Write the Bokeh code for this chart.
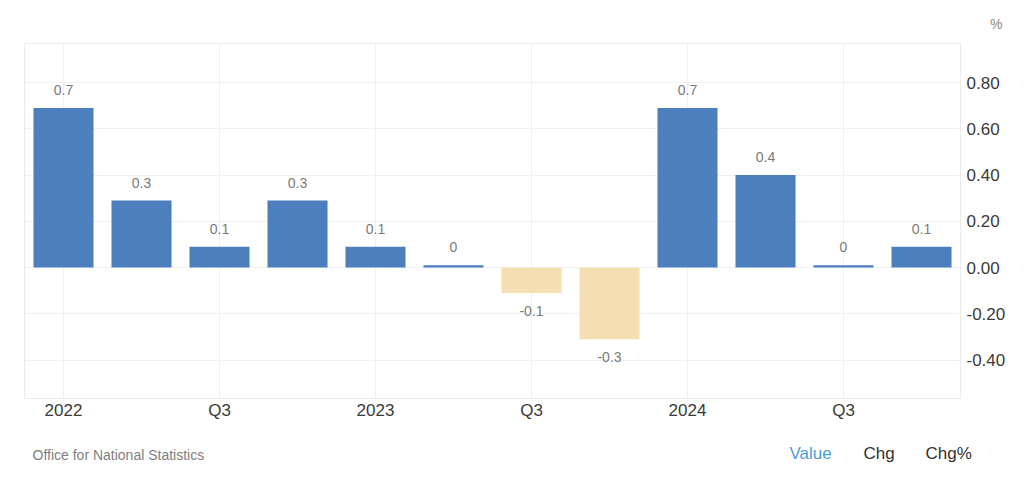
from bokeh.plotting import figure
from bokeh.layouts import column
from bokeh.models import (ColumnDataSource, FixedTicker, Range1d, LabelSet, Title,
                          NumeralTickFormatter)
from bokeh.core.properties import value
from bokeh.embed import file_html
from bokeh.resources import INLINE

# ---- data ----
quarters = ["2022 Q1", "2022 Q2", "2022 Q3", "2022 Q4",
            "2023 Q1", "2023 Q2", "2023 Q3", "2023 Q4",
            "2024 Q1", "2024 Q2", "2024 Q3", "2024 Q4"]
values = [0.69, 0.29, 0.09, 0.29, 0.09, 0.01, -0.11, -0.31, 0.69, 0.40, 0.01, 0.09]
bar_labels = ["0.7", "0.3", "0.1", "0.3", "0.1", "0", "-0.1", "-0.3", "0.7", "0.4", "0", "0.1"]
tick_positions = [0, 2, 4, 6, 8, 10]
tick_labels = ["2022", "Q3", "2023", "Q3", "2024", "Q3"]
y_ticks = [-0.4, -0.2, 0.0, 0.2, 0.4, 0.6, 0.8]
source_text = "Office for National Statistics"
unit_text = "%"
buttons = ["Value", "Chg", "Chg%"]
button_colors = ["#4a9be0", "#333333", "#333333"]

POS_COLOR = "#4d7fbe"
NEG_COLOR = "#f5dfb2"
FONT = "Liberation Sans"
W = 1016

idx = list(range(len(values)))
colors = [POS_COLOR if v >= 0 else NEG_COLOR for v in values]
src = ColumnDataSource(dict(x=idx, top=values, color=colors, label=bar_labels))
pos_src = ColumnDataSource(dict(x=[i for i in idx if values[i] >= 0],
                                y=[values[i] for i in idx if values[i] >= 0],
                                label=[bar_labels[i] for i in idx if values[i] >= 0]))
neg_src = ColumnDataSource(dict(x=[i for i in idx if values[i] < 0],
                                y=[values[i] for i in idx if values[i] < 0],
                                label=[bar_labels[i] for i in idx if values[i] < 0]))

p = figure(width=W, height=430,
           x_range=Range1d(-0.5, 11.5), y_range=Range1d(-0.566, 0.969),
           y_axis_location="right",
           output_backend="svg", toolbar_location=None,
           min_border_left=24, min_border_right=56, min_border_top=43, min_border_bottom=32)

p.background_fill_color = "white"
p.border_fill_color = "white"
p.outline_line_color = "#ebebeb"
p.outline_line_width = 1

p.add_layout(Title(text=unit_text, align="right", offset=-42, standoff=23,
                   text_font=FONT, text_font_size="14px", text_font_style="normal",
                   text_color="#8a8a8a"), "above")

p.vbar(x="x", top="top", bottom=0, width=0.77, fill_color="color", line_color=None, source=src)

p.add_layout(LabelSet(x="x", y="y", text="label", source=pos_src, y_offset=18,
                      text_align="center", text_baseline="middle",
                      text_font=value(FONT), text_font_size=value("14px"), text_color=value("#7a7a7a")))
p.add_layout(LabelSet(x="x", y="y", text="label", source=neg_src, y_offset=-18,
                      text_align="center", text_baseline="middle",
                      text_font=value(FONT), text_font_size=value("14px"), text_color=value("#7a7a7a")))

# axes
xa = p.xaxis[0]
xa.ticker = FixedTicker(ticks=tick_positions)
xa.major_label_overrides = {t: l for t, l in zip(tick_positions, tick_labels)}
ya = p.yaxis[0]
ya.ticker = FixedTicker(ticks=y_ticks)
ya.formatter = NumeralTickFormatter(format="0.00")
for ax in (xa, ya):
    ax.axis_line_color = None
    ax.major_tick_line_color = None
    ax.minor_tick_line_color = None
    ax.major_tick_out = 0
    ax.major_tick_in = 0
    ax.minor_tick_out = 0
    ax.minor_tick_in = 0
    ax.major_label_text_font = FONT
    ax.major_label_text_font_size = "17px"
    ax.major_label_text_color = "#3a3a3a"
xa.major_label_standoff = 2
ya.major_label_standoff = 6

p.xgrid[0].ticker = FixedTicker(ticks=tick_positions)
p.ygrid[0].ticker = FixedTicker(ticks=y_ticks)
p.xgrid.grid_line_color = "#f0f0f0"
p.ygrid.grid_line_color = "#f0f0f0"

# footer: source and the Value / Chg / Chg% switches
# (its frame is aligned with the chart frame, so the x range is in page pixels 24..960)
foot = figure(width=W, height=44, x_range=Range1d(24, 960), y_range=Range1d(44, 0),
              x_axis_type=None, y_axis_type=None, output_backend="svg", toolbar_location=None,
              min_border=0)
foot.outline_line_color = None
foot.grid.visible = False
foot.background_fill_color = "white"
foot.border_fill_color = "white"
foot.text(x=[32], y=[24], text=[source_text], text_align="left", text_baseline="middle",
          text_font=value(FONT), text_font_size="14px", text_color="#7f7f7f", level="overlay")
foot.text(x=[789, 863, 925], y=[23, 23, 23], text=buttons, text_align="left",
          text_baseline="middle", text_font=value(FONT), text_font_size="17px",
          text_color=button_colors, level="overlay")

layout = column(p, foot, spacing=0)
open("out.html", "w").write(file_html(layout, INLINE))
